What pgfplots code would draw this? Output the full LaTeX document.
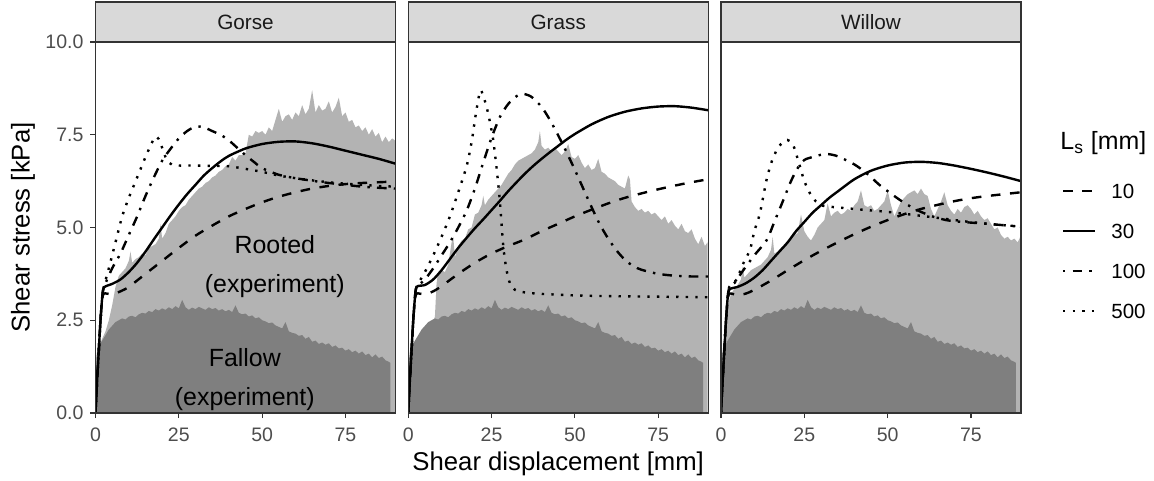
\documentclass[border=0pt]{standalone}
\usepackage{fontspec}
\setmainfont{Liberation Sans}
\usepackage{pgfplots}
\pgfplotsset{compat=1.18}
\usepackage{pgfplotstable}
\definecolor{c33}{HTML}{333333}
\definecolor{c4d}{HTML}{4D4D4D}
\definecolor{c1a}{HTML}{1A1A1A}
\definecolor{rooted}{HTML}{B3B3B3}
\definecolor{fallow}{HTML}{7F7F7F}
\definecolor{stripc}{HTML}{D9D9D9}

\pgfplotstableread{
x y
0 0
0.3 1.5
0.6 1.75
1 1.8
2 1.95
3 2.1
4 2.25
5 2.35
6 2.45
7 2.5
8 2.55
9 2.52
10 2.6
11 2.62
12 2.58
13 2.66
14 2.7
15 2.68
16 2.75
17 2.72
18 2.8
19 2.76
20 2.82
21 2.78
22 2.85
23 2.8
24 2.88
25 2.82
26 3.05
27 2.85
28 2.78
29 2.84
30 2.8
31 2.86
32 2.82
33 2.78
34 2.85
35 2.8
36 2.83
37 2.76
38 2.8
39 2.74
40 2.78
41 2.72
42 2.9
43 2.7
44 2.66
45 2.68
46 2.6
47 2.63
48 2.55
49 2.58
50 2.5
51 2.47
52 2.42
53 2.44
54 2.36
55 2.32
56 2.28
57 2.45
58 2.2
59 2.16
60 2.14
61 2.08
62 2.1
63 2.0
64 2.05
65 1.92
66 1.95
67 1.86
68 1.9
69 1.84
70 1.88
71 1.78
72 1.82
73 1.74
74 1.76
75 1.68
76 1.72
77 1.64
78 1.68
79 1.6
80 1.66
81 1.56
82 1.6
83 1.5
84 1.58
85 1.48
86 1.52
87 1.42
88 1.38
88.5 1.35
}\fallowT

\pgfplotstableread{
x y
0 0
0.3 1.5
0.6 1.7
1 1.8
2 2.0
3 2.2
4 2.5
5 2.9
6 3.4
7 3.7
8 3.8
9 3.9
10 4.1
10.5 4.35
11 4.05
12 4.15
13 4.2
14 4.3
15 4.25
16 4.45
17 4.5
18 4.55
19 4.7
19.5 5.1
20 4.7
21 4.85
22 5.1
23 5.2
24 5.3
25 5.45
26 5.55
27 5.6
28 5.75
29 5.85
30 5.95
31 6.05
32 6.1
33 6.2
34 6.25
35 6.35
36 6.4
37 6.5
38 6.55
39 6.65
40 6.7
41 6.9
42 6.8
43 6.95
44 6.95
45 7.0
46 7.5
47 7.45
48 7.6
49 7.55
50 7.6
51 7.5
52 7.7
53 7.6
54 7.9
55 8.2
56 7.85
57 8.0
58 8.05
59 7.9
60 8.1
61 8.0
62 8.3
63 8.05
64 8.2
65 8.7
66 8.1
67 8.3
68 8.15
69 8.2
70 8.4
71 8.1
72 8.25
73 8.5
74 8.0
75 8.1
76 7.85
77 7.9
78 7.7
79 7.75
80 7.6
81 7.7
82 7.5
83 7.65
84 7.45
85 7.55
86 7.3
87 7.45
88 7.3
89 7.4
89.8 7.35
}\rootG

\pgfplotstableread{
x y
0 0
0.3 1.2
1 1.5
2 1.7
3 1.9
4 2.0
5 2.1
6 2.2
7 2.3
8 2.6
8.5 3.5
9 3.8
10 3.85
11 3.8
12 4.0
13 4.6
13.5 4.75
14 4.2
15 4.5
16 4.65
17 4.7
18 4.95
19 5.0
20 5.35
21 5.4
22 5.6
22.5 5.85
23 5.6
24 5.75
25 5.85
26 5.95
27 6.05
28 6.15
29 6.3
30 6.45
31 6.55
32 6.7
33 6.8
34 6.85
35 6.9
36 6.95
37 7.0
38 7.1
39 7.3
39.5 7.6
40 7.2
41 7.1
42 7.15
43 7.05
44 7.15
45 7.05
46 6.95
47 7.05
48 7.25
49 6.9
50 6.85
51 6.95
52 6.75
53 6.6
54 6.7
55 6.55
56 6.6
57 6.85
58 6.5
59 6.45
60 6.35
61 6.3
62 6.25
63 6.15
64 6.1
65 6.05
66 6.4
66.5 6.3
67 5.7
68 5.55
69 5.45
70 5.5
71 5.4
72 5.45
73 5.35
74 5.4
75 5.3
76 5.2
77 5.3
78 5.1
79 5.2
80 5.05
81 4.95
82 5.1
83 4.9
84 4.85
85 4.95
86 4.7
87 4.55
88 4.75
89 4.5
89.8 4.6
}\rootR

\pgfplotstableread{
x y
0 0
0.3 1.4
1 1.8
2 2.9
3 3.2
4 3.35
5 3.45
6 3.6
6.5 3.95
7 3.65
8 3.75
9 3.85
10 3.9
11 3.95
12 4.0
13 4.1
14 4.2
15 4.4
15.5 4.75
16 4.3
17 4.35
18 4.45
19 4.5
20 4.6
21 4.7
22 4.8
23 4.85
24 5.35
25 4.9
26 4.75
27 4.65
28 4.8
29 5.0
30 5.1
31 5.2
32 5.65
33 5.3
34 5.4
35 5.45
36 5.35
37 5.4
38 5.5
39 5.45
40 5.6
41 5.7
42 6.0
43 5.6
44 5.55
45 5.6
46 5.45
47 5.5
48 5.6
49 5.7
50 6.0
51 5.6
52 5.3
53 5.5
54 5.7
55 5.8
56 5.9
57 5.95
58 6.0
59 5.9
60 6.05
61 5.9
62 5.85
63 5.5
64 5.3
65 5.5
66 5.7
67 5.95
68 5.6
69 5.45
70 5.35
71 5.5
72 5.4
73 5.55
74 5.6
75 5.5
76 5.35
77 5.45
78 5.3
79 5.2
80 5.25
81 5.1
82 4.95
83 5.0
84 4.8
85 4.7
86 4.75
87 4.65
88 4.7
89 4.6
89.8 4.75
}\rootW

\pgfplotsset{
  panel/.style={
    scale only axis, width=150bp, height=185.5bp,
    xmin=0, xmax=90, ymin=0, ymax=10,
    anchor=south west, axis on top,
    axis line style={draw=c33, line width=0.55bp},
    tick align=outside, major tick length=2.5bp,
    tick style={draw=c33, line width=0.55bp},
    xtick={0,25,50,75}, xtick pos=left, ytick pos=left,
    ticklabel style={font=\fontsize{9.8}{11}\selectfont, text=c4d},
    xticklabel style={yshift=-1.5bp},
    /pgf/number format/assume math mode=true,
  },
  ls/.style={black, line width=1.2bp, line cap=butt, smooth, tension=0.45},
  m10/.style={ls, dash pattern=on 4.8bp off 4.8bp},
  m30/.style={ls},
  m100/.style={ls, dash pattern=on 1.2bp off 3.6bp on 4.8bp off 3.6bp},
  m500/.style={ls, dash pattern=on 1.2bp off 3.6bp},
}

\begin{document}
\begin{tikzpicture}
\useasboundingbox (0,0) rectangle (577bp,240.5bp);

% ---------------- Gorse
\begin{axis}[panel, at={(47.75bp,34bp)},
  ytick={0,2.5,5,7.5,10},
  yticklabel style={/pgf/number format/.cd, fixed, fixed zerofill, precision=1}]
\addplot[fill=rooted, draw=none] table {\rootG} \closedcycle;
\addplot[fill=fallow, draw=none] table {\fallowT} \closedcycle;
\node[font=\fontsize{12.5}{19.5}\selectfont, align=center, text=black] at (axis cs:53.8,3.94) {Rooted\\(experiment)};
\node[font=\fontsize{12.5}{19.5}\selectfont, align=center, text=black] at (axis cs:44.8,0.9) {Fallow\\(experiment)};
\addplot[m10] coordinates {(0,0)(0.5,0.9)(1,1.7)(1.5,2.5)(2,3.05)(2.5,3.22)(5,3.2)(7.5,3.28)(10,3.4)(15,3.75)(20,4.1)(25,4.45)(30,4.78)(35,5.05)(40,5.3)(45,5.5)(50,5.68)(55,5.83)(60,5.95)(65,6.05)(70,6.12)(75,6.17)(80,6.2)(85,6.22)(90,6.24)};
\addplot[m30] coordinates {(0,0)(0.5,0.9)(1,1.7)(1.5,2.5)(2,3.1)(2.5,3.38)(5,3.48)(7.5,3.6)(10,3.8)(12.5,4.05)(15,4.35)(17.5,4.68)(20,5.0)(22.5,5.32)(25,5.62)(27.5,5.9)(30,6.15)(32.5,6.4)(35,6.6)(37.5,6.78)(40,6.93)(45,7.13)(50,7.25)(55,7.31)(60,7.32)(65,7.27)(70,7.18)(75,7.07)(80,6.96)(85,6.85)(90,6.72)};
\addplot[m100] coordinates {(0,0)(0.5,0.9)(1,1.7)(1.5,2.5)(2,3.1)(2.5,3.38)(5,3.9)(7.5,4.3)(10,4.8)(12.5,5.3)(15,5.85)(17.5,6.35)(20,6.8)(22.5,7.12)(25,7.4)(27.5,7.6)(30,7.72)(32.5,7.7)(35,7.6)(37.5,7.5)(40,7.35)(42.5,7.15)(45,6.95)(47.5,6.77)(50,6.6)(55,6.42)(60,6.33)(65,6.26)(70,6.2)(75,6.15)(80,6.1)(85,6.07)(90,6.05)};
\addplot[m500] coordinates {(0,0)(0.5,0.9)(1,1.7)(1.5,2.5)(2,3.1)(2.5,3.4)(4,3.9)(6,4.6)(8,5.3)(10,5.8)(12.5,6.35)(15,6.9)(17,7.3)(18,7.45)(19,7.38)(20,7.15)(21,6.9)(22,6.75)(23,6.69)(25,6.67)(30,6.67)(35,6.66)(40,6.65)(45,6.58)(50,6.5)(55,6.4)(60,6.33)(65,6.27)(70,6.22)(75,6.18)(80,6.15)(85,6.12)(90,6.1)};
\end{axis}

% ---------------- Grass
\begin{axis}[panel, at={(204.125bp,34bp)}, ytick=\empty]
\addplot[fill=rooted, draw=none] table {\rootR} \closedcycle;
\addplot[fill=fallow, draw=none] table {\fallowT} \closedcycle;
\addplot[m10] coordinates {(0,0)(0.5,0.9)(1,1.7)(1.5,2.5)(2,3.05)(2.5,3.22)(5,3.2)(7.5,3.28)(10,3.42)(15,3.75)(20,4.05)(25,4.3)(30,4.5)(35,4.68)(40,4.9)(45,5.1)(50,5.3)(55,5.48)(60,5.65)(65,5.8)(70,5.92)(75,6.03)(80,6.13)(85,6.22)(90,6.3)};
\addplot[m30] coordinates {(0,0)(0.5,0.9)(1,1.7)(1.5,2.5)(2,3.1)(2.5,3.4)(5,3.45)(7.5,3.6)(10,3.85)(12.5,4.15)(15,4.45)(17.5,4.72)(20,4.98)(22.5,5.22)(25,5.47)(27.5,5.72)(30,5.98)(32.5,6.22)(35,6.45)(37.5,6.66)(40,6.85)(42.5,7.03)(45,7.2)(47.5,7.37)(50,7.52)(55,7.78)(60,7.98)(65,8.12)(70,8.21)(75,8.26)(80,8.27)(85,8.23)(90,8.16)};
\addplot[m100] coordinates {(0,0)(0.5,0.9)(1,1.7)(1.5,2.5)(2,3.1)(2.5,3.38)(5,3.6)(7.5,3.9)(10,4.25)(12.5,4.6)(15,5.0)(17.5,5.45)(20,6.05)(22.5,6.75)(25,7.42)(27.5,7.98)(30,8.33)(32.5,8.54)(34.5,8.6)(37,8.52)(40,8.25)(42.5,7.9)(45,7.48)(47.5,7.03)(50,6.55)(52.5,6.05)(55,5.55)(57.5,5.08)(60,4.7)(62.5,4.38)(65,4.13)(67.5,3.96)(70,3.86)(75,3.75)(80,3.7)(85,3.68)(90,3.68)};
\addplot[m500] coordinates {(0,0)(0.5,0.9)(1,1.7)(1.5,2.5)(2,3.1)(2.5,3.4)(5,3.8)(7.5,4.25)(10,4.75)(12.5,5.3)(15,5.95)(17.5,6.65)(19,7.3)(20,7.9)(21,8.45)(21.7,8.7)(22.5,8.55)(23.5,8.25)(24.5,7.85)(25.5,7.35)(26.5,6.6)(27.5,5.7)(28.5,4.5)(29.5,3.85)(30.5,3.5)(32,3.32)(35,3.25)(40,3.21)(50,3.17)(60,3.15)(70,3.14)(80,3.13)(90,3.12)};
\end{axis}

% ---------------- Willow
\begin{axis}[panel, at={(360.5bp,34bp)}, ytick=\empty]
\addplot[fill=rooted, draw=none] table {\rootW} \closedcycle;
\addplot[fill=fallow, draw=none] table {\fallowT} \closedcycle;
\addplot[m10] coordinates {(0,0)(0.5,0.9)(1,1.7)(1.5,2.5)(2,3.05)(2.5,3.22)(5,3.18)(7.5,3.22)(10,3.32)(15,3.57)(20,3.85)(25,4.12)(30,4.37)(35,4.6)(40,4.82)(45,5.02)(50,5.2)(55,5.36)(60,5.5)(65,5.61)(70,5.71)(75,5.79)(80,5.85)(85,5.9)(90,5.95)};
\addplot[m30] coordinates {(0,0)(0.5,0.9)(1,1.7)(1.5,2.5)(2,3.1)(2.5,3.33)(5,3.4)(7.5,3.5)(10,3.65)(12.5,3.85)(15,4.1)(17.5,4.35)(20,4.6)(22.5,4.9)(25,5.15)(27.5,5.4)(30,5.6)(32.5,5.8)(35,5.97)(40,6.3)(45,6.53)(50,6.67)(55,6.75)(60,6.77)(65,6.74)(70,6.67)(75,6.58)(80,6.48)(85,6.37)(90,6.25)};
\addplot[m100] coordinates {(0,0)(0.5,0.9)(1,1.7)(1.5,2.5)(2,3.1)(2.5,3.38)(4,3.5)(6.7,3.85)(10,4.25)(13.7,4.66)(16,5.15)(18.7,5.74)(21,6.25)(23,6.6)(25,6.82)(27.5,6.9)(30,6.96)(32,6.98)(35,6.92)(40,6.7)(43.7,6.46)(47.5,6.15)(50,5.98)(53.7,5.74)(57.5,5.53)(60,5.42)(63.7,5.29)(67.5,5.2)(70,5.17)(73.7,5.14)(80,5.1)(85,5.06)(90,5.03)};
\addplot[m500] coordinates {(0,0)(0.5,0.9)(1,1.7)(1.5,2.5)(2,3.1)(2.5,3.4)(4.7,3.6)(6.5,4.0)(8.7,4.4)(10,4.9)(11.7,5.39)(13.7,6.3)(15.5,6.85)(17.5,7.2)(19.9,7.36)(21.5,7.25)(22.5,7.0)(23.7,6.64)(25,6.25)(26.7,5.92)(28.5,5.7)(30,5.6)(32.7,5.56)(37.5,5.52)(43.7,5.47)(50,5.42)(57.7,5.34)(65,5.26)(73.7,5.16)(80,5.1)(85,5.06)(90,5.02)};
\end{axis}

% strips
\foreach \xl/\lab in {47.75/Gorse, 204.125/Grass, 360.5/Willow}{
  \draw[fill=stripc, draw=c33, line width=0.55bp] (\xl bp,219.5bp) rectangle ({\xl bp+150bp},239.5bp);
  \node[font=\fontsize{10.4}{12}\selectfont, text=c1a] at ({\xl bp+75bp},229.5bp) {\lab};
}

% axis titles
\node[rotate=90, font=\fontsize{12.9}{15}\selectfont] at (11.5bp,126.75bp) {Shear stress [kPa]};
\node[anchor=base, font=\fontsize{12.9}{15}\selectfont] at (279.1bp,5.2bp) {Shear displacement [mm]};

% legend
\node[anchor=west, font=\fontsize{12.5}{14}\selectfont, inner sep=0pt] at (530bp,169bp) {L\textsubscript{s} [mm]};
\draw[black, line width=1.2bp, dash pattern=on 4.8bp off 4.8bp] (531.5bp,145bp) -- (547.5bp,145bp);
\draw[black, line width=1.2bp] (531.5bp,125bp) -- (547.5bp,125bp);
\draw[black, line width=1.2bp, dash pattern=on 1.2bp off 3.6bp on 4.8bp off 3.6bp] (531.5bp,105bp) -- (547.5bp,105bp);
\draw[black, line width=1.2bp, dash pattern=on 1.2bp off 3.6bp] (531.5bp,85bp) -- (547.5bp,85bp);
\foreach \yy/\lab in {145/10, 125/30, 105/100, 85/500}{
  \node[anchor=west, inner sep=0pt, font=\fontsize{10.3}{12}\selectfont, text=black] at (555.5bp,\yy bp) {\lab};
}
\end{tikzpicture}
\end{document}
